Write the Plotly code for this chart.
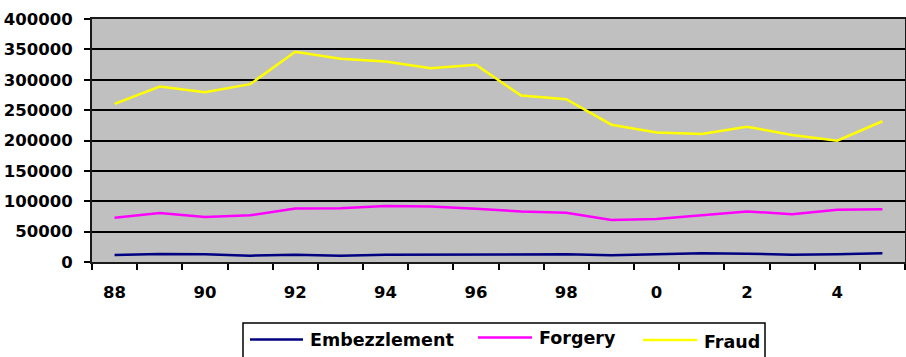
import plotly.graph_objects as go

# Yearly counts, 1988-2005
years = list(range(1988, 2006))
embezzlement = [11500, 13000, 12600, 10400, 12000, 10400, 12000, 12000, 11500,
                12600, 12600, 11000, 12600, 14300, 13700, 12000, 12600, 14300]
forgery = [73000, 80800, 74200, 76900, 88000, 88500, 92300, 91200, 87500,
           83300, 81000, 69300, 70700, 77300, 83300, 78700, 86000, 86900]
fraud = [260200, 288800, 279500, 292700, 346000, 334500, 330000, 319000, 324600,
         274000, 268000, 226000, 213000, 210700, 222800, 209000, 199700, 231700]

tick_years = years[::2]
tick_text = ["88", "90", "92", "94", "96", "98", "0", "2", "4"]
y_ticks = list(range(0, 400001, 50000))
y_text = [str(v) for v in y_ticks]

series_names = ["Embezzlement", "Forgery", "Fraud"]
series_values = [embezzlement, forgery, fraud]
series_colors = ["#000080", "#FF00FF", "#FFFF00"]

font_family = "DejaVu Sans"
W, H = 906, 357
ML, MR, MT, MB = 92, 1, 19, 95
PW, PH = W - ML - MR, H - MT - MB


def px_x(px):
    return (px - ML) / PW


def px_y(py):
    return (H - MB - py) / PH


fig = go.Figure()
for name, vals, color in zip(series_names, series_values, series_colors):
    fig.add_trace(go.Scatter(
        x=years, y=vals, name=name, mode="lines",
        line=dict(color=color, width=2.5), showlegend=False,
    ))

# Legend box along the bottom edge, drawn in paper space
shapes = [dict(
    type="rect", xref="paper", yref="paper",
    x0=px_x(243), x1=px_x(765), y0=px_y(323), y1=px_y(372),
    line=dict(color="black", width=1.5), fillcolor="white", layer="above",
)]
annotations = []
legend_slots = [  # (line start, line end, line y, text left, text y)
    (250, 303, 339.5, 308, 340),
    (478, 532, 337.5, 537, 338),
    (643, 697, 340, 702, 342),
]
for name, color, (lx0, lx1, ly, tx, ty) in zip(series_names, series_colors, legend_slots):
    shapes.append(dict(
        type="line", xref="paper", yref="paper",
        x0=px_x(lx0), x1=px_x(lx1), y0=px_y(ly), y1=px_y(ly),
        line=dict(color=color, width=2.5), layer="above",
    ))
    annotations.append(dict(
        xref="paper", yref="paper", x=px_x(tx), y=px_y(ty),
        xanchor="left", yanchor="middle", text=name, showarrow=False,
        font=dict(family=font_family, size=17.5, color="black", weight="bold"),
    ))

fig.update_layout(
    width=W, height=H,
    margin=dict(l=ML, r=MR, t=MT, b=MB, autoexpand=False),
    paper_bgcolor="white",
    plot_bgcolor="#C0C0C0",
    font=dict(family=font_family, size=16, color="black", weight="bold"),
    showlegend=False,
    shapes=shapes,
    annotations=annotations,
)

fig.update_xaxes(
    range=[1987.5, 2005.5],
    tickmode="array", tickvals=tick_years, ticktext=tick_text,
    ticks="", showgrid=False, zeroline=False,
    showline=True, mirror=True, linecolor="#1a1a1a", linewidth=2,
    tickfont=dict(family=font_family, size=16.5, color="black", weight="bold"),
    ticklabelstandoff=14,
    minor=dict(ticks="outside", ticklen=6, tickwidth=2, tickcolor="black",
               tick0=1987.5, dtick=1, showgrid=False),
)
fig.update_yaxes(
    range=[0, 400000],
    tickmode="array", tickvals=y_ticks, ticktext=y_text,
    ticks="outside", ticklen=6, tickwidth=2, tickcolor="black",
    showgrid=True, gridcolor="black", gridwidth=2,
    zeroline=False,
    showline=True, mirror=True, linecolor="#1a1a1a", linewidth=2,
    tickfont=dict(family=font_family, size=16.5, color="black", weight="bold"),
    ticklabelstandoff=8,
)

fig.write_html("out.html")
